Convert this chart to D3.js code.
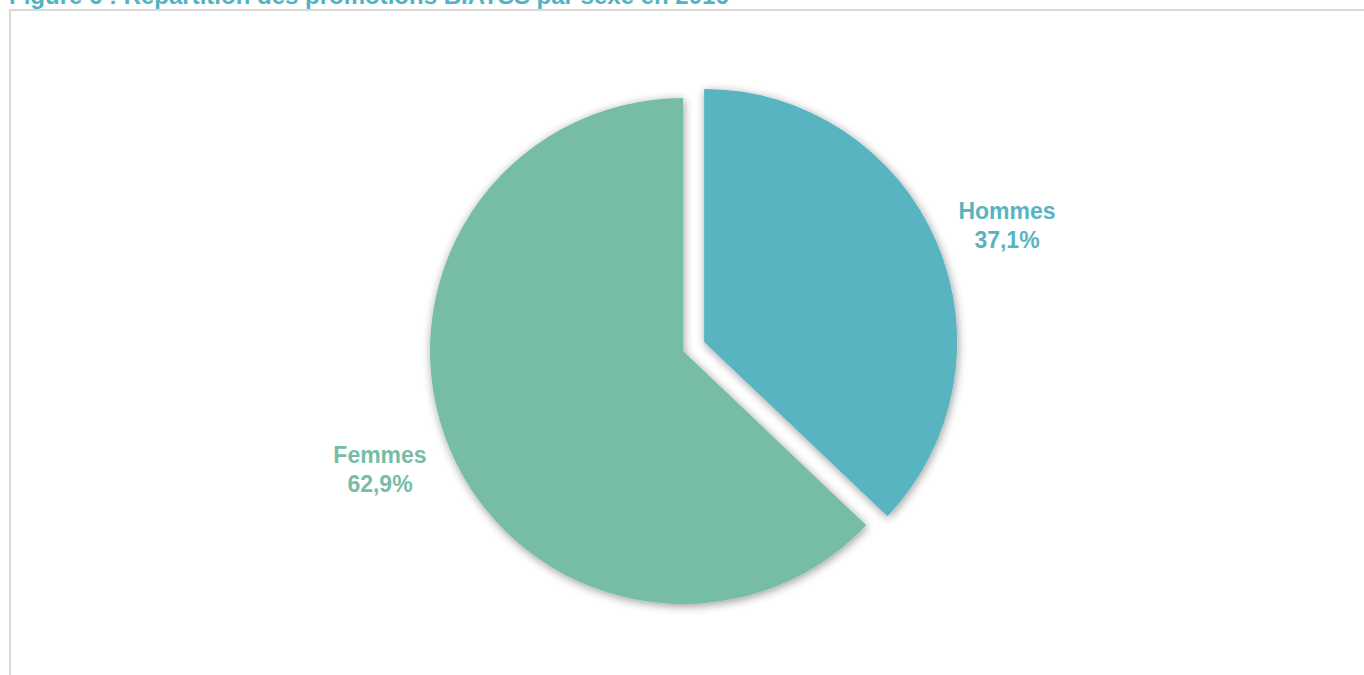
<!DOCTYPE html>
<html>
<head>
<meta charset="utf-8">
<script src="https://cdn.jsdelivr.net/npm/d3@7"></script>
<style>
html,body{margin:0;padding:0;background:#fff;overflow:hidden;}
svg{display:block;}
</style>
</head>
<body>
<svg id="chart" width="1364" height="675"></svg>
<script>
const categories = ["Hommes", "Femmes"];
const values = [37.1, 62.9];
const valueLabels = ["37,1%", "62,9%"];
const colors = ["#58b4c0", "#77bda6"];
const title = "Figure 6 : Répartition des promotions BIATSS par sexe en 2016";

const svg = d3.select("#chart");

const defs = svg.append("defs");
const f = defs.append("filter").attr("id","shadow").attr("x","-20%").attr("y","-20%").attr("width","140%").attr("height","140%");
f.append("feGaussianBlur").attr("in","SourceAlpha").attr("stdDeviation",5).attr("result","b");
f.append("feOffset").attr("in","b").attr("dx",1).attr("dy",2).attr("result","o");
f.append("feComponentTransfer").attr("in","o").attr("result","s").append("feFuncA").attr("type","linear").attr("slope",0.4);
const m = f.append("feMerge");
m.append("feMergeNode").attr("in","s");
m.append("feMergeNode").attr("in","SourceGraphic");

// frame
svg.append("rect").attr("x",10).attr("y",10).attr("width",1400).attr("height",700)
  .attr("fill","none").attr("stroke","#d9d9d9").attr("stroke-width",2);

// title
svg.append("text").attr("x",9).attr("y",4)
  .attr("font-family","Liberation Sans, Arial, sans-serif").attr("font-weight","bold")
  .attr("font-size",24).attr("fill","#4fb3c1").text(title);

const cx = 683, cy = 351, r = 253, explode = 23;
const pie = d3.pie().sort(null).value(d => d)(values);
const arc = d3.arc().innerRadius(0).outerRadius(r);

const g = svg.append("g").attr("transform",`translate(${cx},${cy})`);
pie.forEach((p,i) => {
  const mid = (p.startAngle + p.endAngle)/2;
  const d = i === 0 ? explode : 0;
  const dx = Math.sin(mid)*d, dy = -Math.cos(mid)*d;
  g.append("path").attr("d", arc(p)).attr("fill", colors[i])
    .attr("transform",`translate(${dx},${dy})`).attr("filter","url(#shadow)");
});

// labels
const labelPos = [[1007, 219], [380, 463]];
categories.forEach((c,i) => {
  const t = svg.append("text").attr("x",labelPos[i][0]).attr("y",labelPos[i][1])
    .attr("text-anchor","middle").attr("font-family","Liberation Sans, Arial, sans-serif")
    .attr("font-weight","bold").attr("font-size",23).attr("fill",colors[i]);
  t.append("tspan").attr("x",labelPos[i][0]).text(c);
  t.append("tspan").attr("x",labelPos[i][0]).attr("dy",29).text(valueLabels[i]);
});
</script>
</body>
</html>
